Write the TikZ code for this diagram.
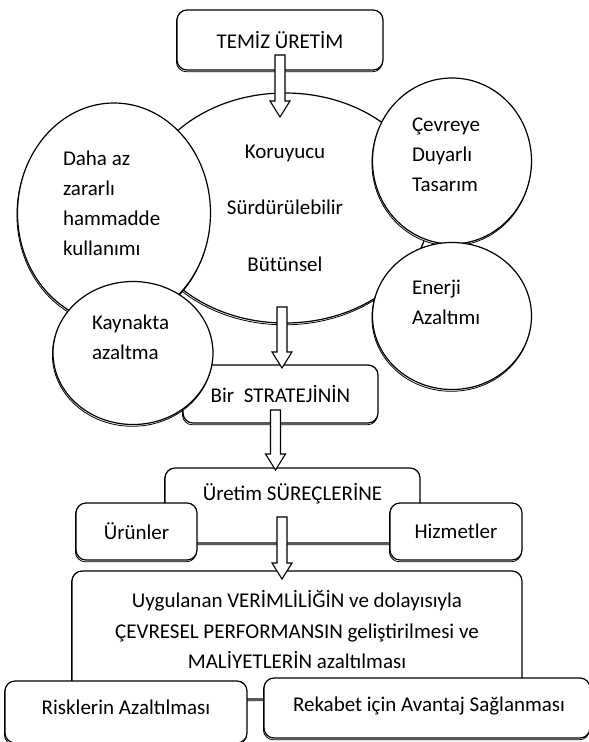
\documentclass[tikz,border=0pt]{standalone}
\usepackage{fontspec}
\setmainfont{Carlito}
\usetikzlibrary{shapes.geometric,shadows,calc}

\begin{document}
\begin{tikzpicture}[x=1pt,y=-1pt,inner sep=0pt,outer sep=0pt,
font=\fontsize{21}{25}\selectfont,
golge/.style={general shadow={shadow xshift=-0.6pt,shadow yshift=-1.8pt,draw,fill=white,line width=0.8pt}},
kutu/.style={draw,rectangle,rounded corners=10pt,fill=white,line width=1.2pt,golge},
daire/.style={draw,ellipse,fill=white,line width=1.2pt,golge},
yazi/.style={align=left,font=\fontsize{21}{30}\selectfont},
blokok/.style={draw,fill=white,line width=1.1pt,to path={let \p1=(\tikztostart),\p2=(\tikztotarget) in
  (\x1-5pt,\y1) -- (\x1+5pt,\y1) -- (\x1+5pt,\y2+16pt) -- (\x1+10pt,\y2+16pt) -- (\x1,\y2) -- (\x1-10pt,\y2+16pt) -- (\x1-5pt,\y2+16pt) -- cycle}}]

\useasboundingbox (0,0) rectangle (589,742);

% halkalar
\node[daire,minimum width=290pt,minimum height=230pt,align=center,font=\fontsize{21}{56.5}\selectfont] (merkez) at (285,208) {Koruyucu\\Sürdürülebilir\\Bütünsel};
\node[daire,minimum width=193pt,minimum height=220pt] (sol) at (114,213) {};
\node[yazi,anchor=west] (solyazi) at (63,203) {Daha az\\zararlı\\hammadde\\kullanımı};
\node[daire,minimum width=159pt,minimum height=166pt] (cevre) at (452,161) {};
\node[yazi,anchor=west] (cevreyazi) at (412,155) {Çevreye\\Duyarlı\\Tasarım};
\node[daire,minimum width=159pt,minimum height=147pt] (enerji) at (452,316) {};
\node[yazi,anchor=west] (enerjiyazi) at (412,302) {Enerji\\Azaltımı};
\node[kutu,minimum width=195pt,minimum height=58pt] (bir) at (280.5,394) {Bir~~STRATEJİNİN};
\node[daire,minimum width=160pt,minimum height=143pt] (kaynak) at (133,353) {};
\node[yazi,anchor=west] (kaynakyazi) at (92,337) {Kaynakta\\azaltma};

% ust kutu
\node[kutu,minimum width=206pt,minimum height=60pt] (temiz) at (280,40) {TEMİZ ÜRETİM};
\draw[blokok] ([yshift=15pt]temiz.south) to ([yshift=-24pt]merkez.north);
\draw[blokok] ([xshift=-3pt,yshift=16pt]merkez.south) to ([yshift=-3pt]bir.north);

% alt kutular
\node[kutu,minimum width=255pt,minimum height=75pt] (uretim) at (292.5,505.5) {};
\node (uretimyazi) at (292.5,494) {Üretim SÜREÇLERİNE};
\draw[blokok] ([xshift=-5pt,yshift=13pt]bir.south) to ([yshift=-2pt]uretim.north);
\node[kutu,minimum width=121pt,minimum height=57pt] (urunler) at (136.5,531.5) {Ürünler};
\node[kutu,minimum width=132pt,minimum height=57pt] (hizmet) at (456,531.5) {Hizmetler};

\node[kutu,minimum width=450pt,minimum height=128pt] (buyuk) at (297,635) {};
\node[align=center,font=\fontsize{21}{30.5}\selectfont] (buyukyazi) at (297,630) {Uygulanan VERİMLİLİĞİN ve dolayısıyla\\ÇEVRESEL PERFORMANSIN geliştirilmesi ve\\MALİYETLERİN azaltılması};
\draw[blokok] ([xshift=-10.5pt,yshift=26pt]uretim.south) to ([yshift=-8pt]buyuk.north);

\node[kutu,minimum width=242pt,minimum height=62pt] (risk) at (126,712) {};
\node (riskyazi) at (126,707) {Risklerin Azaltılması};
\node[kutu,minimum width=326pt,minimum height=60pt] (rekabet) at (427,708) {};
\node (rekabetyazi) at (429,706) {Rekabet için Avantaj Sağlanması};
\end{tikzpicture}
\end{document}
